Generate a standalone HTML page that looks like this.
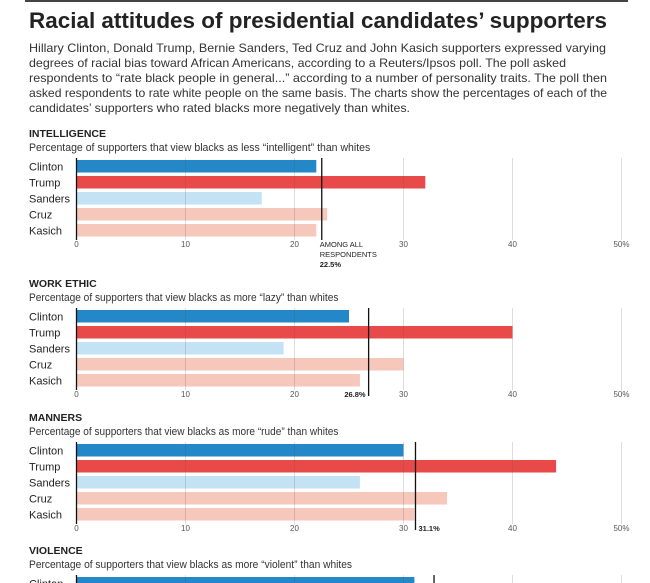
<!DOCTYPE html>
<html><head><meta charset="utf-8"><style>
html,body{margin:0;padding:0;background:#fff;width:650px;height:583px;overflow:hidden;}
svg{display:block;font-family:"Liberation Sans",sans-serif;}
</style></head><body>
<svg id="c" width="650" height="583" viewBox="0 0 650 583">
<line x1="25" y1="1" x2="628" y2="1" stroke="#444" stroke-width="2"/>
<text x="29" y="28" font-size="22" font-weight="bold" fill="#222" textLength="578" lengthAdjust="spacingAndGlyphs">Racial attitudes of presidential candidates’ supporters</text>
<g font-size="12" fill="#333">
<text x="29" y="52" textLength="577" lengthAdjust="spacingAndGlyphs">Hillary Clinton, Donald Trump, Bernie Sanders, Ted Cruz and John Kasich supporters expressed varying</text>
<text x="29" y="67" textLength="537" lengthAdjust="spacingAndGlyphs">degrees of racial bias toward African Americans, according to a Reuters/Ipsos poll. The poll asked</text>
<text x="29" y="82" textLength="578" lengthAdjust="spacingAndGlyphs">respondents to “rate black people in general...” according to a number of personality traits. The poll then</text>
<text x="29" y="97" textLength="578" lengthAdjust="spacingAndGlyphs">asked respondents to rate white people on the same basis. The charts show the percentages of each of the</text>
<text x="29" y="112" textLength="381" lengthAdjust="spacingAndGlyphs">candidates’ supporters who rated blacks more negatively than whites.</text>
</g>
<g id="panels"></g>
</svg>
<script>
const candidates = ["Clinton","Trump","Sanders","Cruz","Kasich"];
const panelTitles = ["INTELLIGENCE","WORK ETHIC","MANNERS","VIOLENCE"];
const panelSubtitles = ["Percentage of supporters that view blacks as less “intelligent” than whites","Percentage of supporters that view blacks as more “lazy” than whites","Percentage of supporters that view blacks as more “rude” than whites","Percentage of supporters that view blacks as more “violent” than whites"];
const intelligence = [22, 32, 17, 23, 22];
const workEthic = [25, 40, 19, 30, 26];
const manners = [30, 44, 26, 34, 31];
const violence = [31, 45, 26, 35, 32];
const averages = [22.5, 26.8, 31.1, 32.8];
const ticks = [0, 10, 20, 30, 40, 50];
const tickLabels = ["0","10","20","30","40","50%"];

const series = [intelligence, workEthic, manners, violence];
const colors = ["#2387c8","#e84a4a","#c3e2f4","#f6c7bb","#f6c7bb"];
const ns = "http://www.w3.org/2000/svg";
const x = v => 76.5 + v * 10.9;
const panelTops = [160, 310, 444, 577];
const g = document.getElementById("panels");
function mk(tag, attrs, parent, text){
  const e = document.createElementNS(ns, tag);
  for (const k in attrs) e.setAttribute(k, attrs[k]);
  if (text !== undefined) e.textContent = text;
  (parent || g).appendChild(e);
  return e;
}
series.forEach((vals, p) => {
  const top = panelTops[p];
  const pg = mk("g", {});
  
  
  const t = mk("text", {x:29, y:top-23, "font-size":10.5, "font-weight":"bold", fill:"#222"}, pg, panelTitles[p]);
  
  
  const s = mk("text", {x:29, y:top-9, "font-size":11, fill:"#333", textLength: panelSubtitles[p].length*4.55, lengthAdjust:"spacingAndGlyphs"}, pg, panelSubtitles[p]);
  
  
  vals.forEach((v, i) => {
    const yy = top + i*16;
    const r = mk("rect", {x:x(0), y:yy, width:x(v)-x(0), height:12.5, fill:colors[i]}, pg);
    
    
    const l = mk("text", {x:29, y:yy+10.5, "font-size":11, fill:"#222"}, pg, candidates[i]);
    
    
  });
  ticks.forEach((tv, i) => {
    if (i > 0) {
      const gl = mk("line", {x1:x(tv), x2:x(tv), y1:top-2, y2:top+80, stroke:"#555", "stroke-opacity":0.2, "stroke-width":1}, pg);
      
      
    }
    const tl = mk("text", {x:x(tv), y:top+87, "font-size":8, fill:"#555", "text-anchor":"middle"}, pg, tickLabels[i]);
    
    
  });
  const ax = mk("line", {x1:x(0), x2:x(0), y1:top-2, y2:top+80, stroke:"#111", "stroke-width":1.3}, pg);
  
  
  const avg = averages[p];
  const al = mk("line", {x1:x(avg), x2:x(avg), y1:top-2, y2:top+(p==0?80:86), stroke:"#111", "stroke-width":1.3}, pg);
  
  
  if (p == 0) {
    const a1 = mk("text", {x:x(avg)-2, y:top+87, "font-size":7.5, fill:"#222"}, pg, "AMONG ALL");
    
    
    const a2 = mk("text", {x:x(avg)-2, y:top+97, "font-size":7.5, fill:"#222"}, pg, "RESPONDENTS");
    
    
    const a3 = mk("text", {x:x(avg)-2, y:top+107, "font-size":7.5, "font-weight":"bold", fill:"#222"}, pg, avg.toFixed(1) + "%");
    
    
  } else {
    const a3 = mk("text", {x:x(avg)-3, y:top+87, "font-size":7.5, "font-weight":"bold", fill:"#222", "text-anchor": p==1 ? "end" : "start"}, pg, avg.toFixed(1) + "%");
    if (p != 1) a3.setAttribute("x", x(avg)+3);
    
    
  }
});
</script>
</body></html>
